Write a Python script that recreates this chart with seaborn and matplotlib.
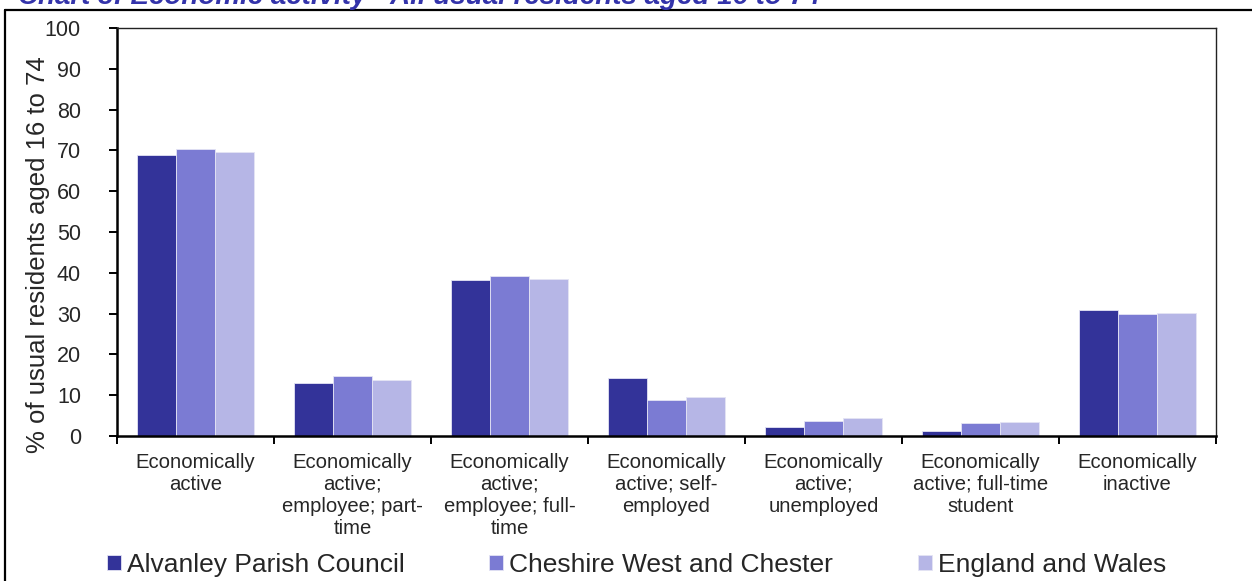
import pandas as pd
import matplotlib.pyplot as plt
from matplotlib.lines import Line2D
import seaborn as sns

categories = [
    'Economically\nactive',
    'Economically\nactive;\nemployee; part-\ntime',
    'Economically\nactive;\nemployee; full-\ntime',
    'Economically\nactive; self-\nemployed',
    'Economically\nactive;\nunemployed',
    'Economically\nactive; full-time\nstudent',
    'Economically\ninactive',
]
areas = ['Alvanley Parish Council', 'Cheshire West and Chester', 'England and Wales']
alvanley = [68.9, 13.1, 38.2, 14.1, 2.1, 1.1, 31.0]
cheshire = [70.3, 14.8, 39.3, 8.9, 3.6, 3.2, 29.8]
england = [69.7, 13.6, 38.5, 9.6, 4.3, 3.4, 30.2]
colors = ['#333399', '#7B7BD3', '#B6B6E6']

rows = []
for area, vals in zip(areas, [alvanley, cheshire, england]):
    for cat, v in zip(categories, vals):
        rows.append({'category': cat, 'area': area, 'value': v})
df = pd.DataFrame(rows)

sns.set_style('ticks')
plt.rcParams['font.family'] = ['Liberation Sans', 'DejaVu Sans']

fig = plt.figure(figsize=(12.52, 5.81), dpi=100)
ax = fig.add_axes([0.0935, 0.2496, 0.8777, 0.7022])

sns.barplot(data=df, x='category', y='value', hue='area', order=categories,
            hue_order=areas, palette=colors, width=0.75, ax=ax,
            edgecolor='#e4e4f4', linewidth=0.6, saturation=1)

ax.set_ylim(0, 100)
ax.set_yticks(range(0, 101, 10))
ax.set_xlim(-0.5, 6.5)
ax.set_xticks([i - 0.5 for i in range(8)], minor=True)
ax.tick_params(axis='x', which='major', length=0, labelsize=14.6, pad=12)
ax.tick_params(axis='x', which='minor', length=6, width=1.4, color='black')
ax.tick_params(axis='y', length=6, width=1.4, color='black', labelsize=15.5, pad=20)
for lbl in ax.get_xticklabels():
    lbl.set_linespacing(1.2)
ax.set_xlabel('')
ax.set_ylabel('% of usual residents aged 16 to 74', fontsize=18.5, va='center')
ax.yaxis.set_label_coords(-0.072, 0.444)

for side in ['left', 'bottom']:
    ax.spines[side].set_linewidth(1.8)
    ax.spines[side].set_color('black')
for side in ['top', 'right']:
    ax.spines[side].set_visible(True)
    ax.spines[side].set_linewidth(1.0)
    ax.spines[side].set_color('#222222')

leg = ax.get_legend()
handles = leg.legend_handles
labels = [t.get_text() for t in leg.get_texts()]
leg.remove()
fig.legend(handles, labels, loc='center left', bbox_to_anchor=(0.0855, 0.028),
           ncol=3, frameon=False, fontsize=19, handlelength=0.53,
           handleheight=0.53, handletextpad=0.23, columnspacing=3.2,
           borderpad=0, borderaxespad=0)

# chart title, cut off at the top like the original
fig.text(0.0144, 1 - 4.5 / 581, 'Chart 3: Economic activity - All usual residents aged 16 to 74',
         fontsize=20, fontweight='bold', fontstyle='italic', color='#3333AA',
         va='baseline', ha='left')

# outer frame
fig.add_artist(Line2D([5 / 1252, 1], [1 - 10 / 581, 1 - 10 / 581],
                      transform=fig.transFigure, color='black', lw=1.6))
fig.add_artist(Line2D([5 / 1252, 5 / 1252], [0, 1 - 10 / 581],
                      transform=fig.transFigure, color='black', lw=1.6))

fig.savefig('out.png', dpi=100)
